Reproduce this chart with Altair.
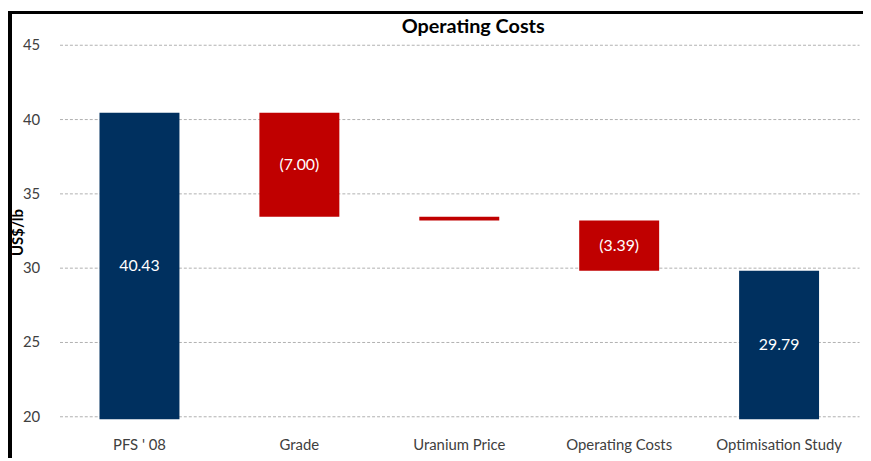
import altair as alt
import pandas as pd

categories = ["PFS ' 08", "Grade", "Uranium Price", "Operating Costs", "Optimisation Study"]
changes = [40.43, -7.00, -0.25, -3.39, 29.79]
is_total = [True, False, False, False, True]
labels = ["40.43", "(7.00)", "", "(3.39)", "29.79"]
y_ticks = [20, 25, 30, 35, 40, 45]
y_floor = 19.8

rows = []
running = 0.0
for c, v, t, lab in zip(categories, changes, is_total, labels):
    if t:
        start, end = y_floor, v
        running = v
        color = "total"
    else:
        start, end = running, running + v
        running = running + v
        color = "delta"
    rows.append({"cat": c, "start": start, "end": end, "mid": (start + end) / 2,
                 "label": lab, "kind": color})
df = pd.DataFrame(rows)

FONT = "Lato"
x = alt.X("cat:N", sort=categories, title=None,
          scale=alt.Scale(paddingInner=0.5, paddingOuter=0.25),
          axis=alt.Axis(labelAngle=0, labelFontSize=15, labelColor="#404040",
                        labelFont=FONT, domain=False, ticks=False, labelPadding=19))
y_scale = alt.Scale(domain=[y_floor, 45], nice=False, zero=False)

bars = alt.Chart(df).mark_bar().encode(
    x=x,
    y=alt.Y("start:Q", scale=y_scale, title="US$/lb",
            axis=alt.Axis(values=y_ticks, grid=True, gridDash=[3, 2], gridColor="#b0b0b0",
                          domain=False, ticks=False, labelFontSize=15, labelColor="#404040",
                          labelFont=FONT, labelPadding=20, titleFont=FONT, titleFontSize=15,
                          titleFontWeight="bold", titleColor="#000000", titleX=-42, titleY=189,
                          titleAngle=-90, titleBaseline="middle")),
    y2="end:Q",
    color=alt.Color("kind:N", scale=alt.Scale(domain=["total", "delta"], range=["#00305F", "#C00000"]),
                    legend=None),
)

text = alt.Chart(df).mark_text(color="white", fontSize=16, font=FONT).encode(
    x=alt.X("cat:N", sort=categories),
    y=alt.Y("mid:Q", scale=y_scale),
    text="label:N",
)

border_left = alt.Chart(df).mark_rule(color="black", strokeWidth=4, clip=False).encode(
    x=alt.value(-50), y=alt.value(-34), y2=alt.value(440))
border_top = alt.Chart(df).mark_rule(color="black", strokeWidth=3, clip=False).encode(
    x=alt.value(-52), x2=alt.value(830), y=alt.value(-32.5))

chart = alt.layer(bars, text, border_left, border_top).properties(
    width=807, height=378,
    autosize=alt.AutoSizeParams(type="none"),
    padding={"left": 52, "top": 35, "right": 4, "bottom": 37},
    title=alt.TitleParams("Operating Costs", font=FONT, fontSize=20, fontWeight="bold",
                          color="#000000", anchor="middle", frame="group", dx=14, offset=-28),
).configure_view(stroke=None)

chart.save("out.html", embed_options={"renderer": "svg", "actions": False})
